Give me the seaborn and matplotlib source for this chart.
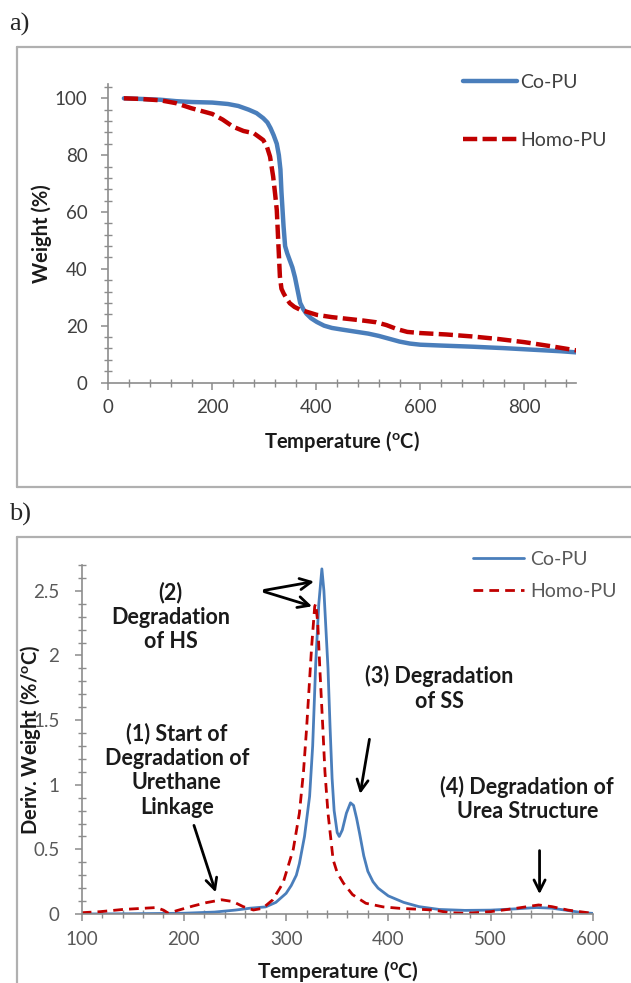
import matplotlib
matplotlib.use("Agg")
import matplotlib.pyplot as plt
from matplotlib.ticker import MultipleLocator, FuncFormatter
from matplotlib.lines import Line2D
import seaborn as sns

# ---- data: (a) TGA weight loss ----
temp_co_a = [30, 60, 100, 130, 160, 200, 230, 250, 270, 285, 298, 306, 312, 318, 324, 328, 331, 333, 335, 337,
             340, 344, 349, 354, 359, 364, 369, 375, 381, 390, 401, 415, 430, 450, 475, 500, 520, 540, 560,
             580, 600, 640, 700, 760, 820, 870, 900]
weight_co = [100, 99.8, 99.5, 99, 98.7, 98.5, 98, 97.3, 96, 94.8, 93, 91.5, 89.5, 87, 84, 80, 75, 67, 61, 55,
             48, 45.5, 43, 40.5, 37, 32.5, 28, 25.8, 24.2, 22.6, 21.3, 20, 19.2, 18.6, 17.9, 17.2, 16.4, 15.4,
             14.4, 13.7, 13.3, 13, 12.6, 12.1, 11.5, 11, 10.6]

temp_homo_a = [30, 60, 100, 130, 160, 200, 220, 240, 260, 280, 298, 305, 311, 317, 321, 324, 327, 330, 333,
               337, 343, 349, 358, 369, 385, 401, 430, 460, 490, 515, 535, 555, 575, 600, 650, 700, 750, 800,
               850, 900]
weight_homo = [100, 99.8, 99.3, 98.3, 96.5, 94.5, 92.5, 90, 88.5, 87.7, 85.3, 83, 79.5, 72.5, 66, 60.7, 49,
               37.3, 33, 31.4, 29.5, 27.9, 26.6, 25.6, 24.7, 23.8, 23, 22.4, 21.8, 21.2, 20.2, 18.8, 17.8,
               17.4, 16.9, 16.2, 15.3, 14.2, 12.8, 11.3]

# ---- data: (b) DTG ----
temp_co_b = [100, 150, 200, 230, 250, 265, 280, 290, 300, 305, 310, 313, 318, 323, 326, 329, 332, 335, 337,
             339, 341, 343, 345, 347, 350, 352, 355, 359, 363, 366, 369, 372, 376, 380, 385, 390, 400, 415,
             430, 450, 475, 500, 525, 545, 560, 575, 590, 600]
deriv_co = [0.0, 0.002, 0.006, 0.015, 0.03, 0.045, 0.055, 0.09, 0.16, 0.22, 0.3, 0.39, 0.6, 0.91, 1.3, 1.94,
            2.4, 2.67, 2.5, 2.2, 1.9, 1.45, 1.05, 0.8, 0.63, 0.6, 0.65, 0.78, 0.86, 0.84, 0.74, 0.62, 0.45,
            0.33, 0.25, 0.2, 0.14, 0.09, 0.057, 0.035, 0.028, 0.03, 0.04, 0.05, 0.045, 0.028, 0.01, 0.005]

temp_homo_b = [100, 118, 140, 160, 173, 180, 185, 193, 209, 222, 237, 248, 258, 268, 277, 287, 297, 307, 313,
               317, 320, 325, 328, 329, 331, 333, 336, 338, 341, 346, 350, 356, 365, 378, 395, 411, 444, 460,
               476, 500, 525, 547, 560, 576, 600]
deriv_homo = [0.01, 0.018, 0.035, 0.044, 0.05, 0.03, 0.005, 0.026, 0.062, 0.088, 0.11, 0.096, 0.057, 0.031,
              0.044, 0.11, 0.24, 0.5, 0.78, 1.1, 1.43, 2.07, 2.38, 2.4, 2.25, 1.9, 1.43, 1.1, 0.78, 0.42, 0.32,
              0.24, 0.15, 0.083, 0.055, 0.044, 0.031, 0.01, 0.005, 0.018, 0.044, 0.07, 0.057, 0.03, 0.005]

series_labels = ["Co-PU", "Homo-PU"]
BLUE = "#4a7ebb"
RED = "#c00000"

sns.set_style("ticks")
plt.rcParams["font.family"] = ["Lato", "DejaVu Sans"]
plt.rcParams["mathtext.default"] = "regular"

fig = plt.figure(figsize=(6.31, 9.83), dpi=100)
W, H = 631.0, 983.0


def fig_line(x0, y0, x1, y1, color="#b0b0b0", lw=1.6):
    fig.add_artist(Line2D([x0 / W, x1 / W], [1 - y0 / H, 1 - y1 / H], transform=fig.transFigure,
                          color=color, lw=lw))


# chart area frames like the excel screenshots
fig_line(17, 47, 631, 47)
fig_line(17, 47, 17, 487)
fig_line(17, 487, 631, 487)
fig_line(17, 537, 631, 537)
fig_line(17, 537, 17, 983)
fig.text(9 / W, 1 - 24 / H, "a)", family="Liberation Serif", fontsize=19, va="center", ha="left")
fig.text(9 / W, 1 - 514 / H, "b)", family="Liberation Serif", fontsize=19, va="center", ha="left")


def style_axes(ax, tick_color):
    sns.despine(ax=ax)
    for s in ["left", "bottom"]:
        ax.spines[s].set_color("#8c8c8c")
        ax.spines[s].set_linewidth(1.2)
    ax.tick_params(which="major", direction="out", length=5, width=1.1, color="#8c8c8c",
                   labelsize=13.5, labelcolor=tick_color)
    ax.tick_params(which="minor", direction="inout", length=6, width=1.0, color="#8c8c8c")


# ---------------- (a) ----------------
ax1 = fig.add_axes([108.3 / W, 1 - 382.5 / H, 468 / W, 298.4 / H])
sns.lineplot(x=temp_co_a, y=weight_co, ax=ax1, color=BLUE, lw=3.2, sort=False, label=series_labels[0])
sns.lineplot(x=temp_homo_a, y=weight_homo, ax=ax1, color=RED, lw=3.2, sort=False, label=series_labels[1],
             dashes=False, linestyle=(0, (3.2, 1.2)))
ax1.set_xlim(0, 900)
ax1.set_ylim(0, 105)
ax1.xaxis.set_major_locator(MultipleLocator(200))
ax1.xaxis.set_minor_locator(MultipleLocator(40))
ax1.yaxis.set_major_locator(MultipleLocator(20))
ax1.yaxis.set_minor_locator(MultipleLocator(4))
style_axes(ax1, "#404040")
ax1.tick_params(axis="x", which="major", pad=7)
ax1.tick_params(axis="y", which="major", pad=10)
ax1.set_xlabel("Temperature ($^{o}$C)", fontsize=14.5, fontweight="bold", color="#1a1a1a")
ax1.set_ylabel("Weight (%)", fontsize=14.5, fontweight="bold", color="#1a1a1a")
ax1.xaxis.set_label_coords(0.499, -0.155)
ax1.yaxis.set_label_coords(-0.12, 0.5)
ax1.legend(loc="upper left", bbox_to_anchor=(463 / W, 1 - 74 / H), bbox_transform=fig.transFigure,
           frameon=False, fontsize=14, borderpad=0, borderaxespad=0, handlelength=2.8,
           handletextpad=0.15, labelspacing=2.1, labelcolor="#404040")

# ---------------- (b) ----------------
ax2 = fig.add_axes([81.7 / W, 1 - 914 / H, 511 / W, 349 / H])
sns.lineplot(x=temp_co_b, y=deriv_co, ax=ax2, color=BLUE, lw=2.0, sort=False, label=series_labels[0])
sns.lineplot(x=temp_homo_b, y=deriv_homo, ax=ax2, color=RED, lw=2.0, sort=False, label=series_labels[1],
             dashes=False, linestyle=(0, (3.5, 2.2)))
ax2.set_xlim(100, 600)
ax2.set_ylim(0, 2.7)
ax2.xaxis.set_major_locator(MultipleLocator(100))
ax2.xaxis.set_minor_locator(MultipleLocator(20))
ax2.yaxis.set_major_locator(MultipleLocator(0.5))
ax2.yaxis.set_minor_locator(MultipleLocator(0.1))
ax2.yaxis.set_major_formatter(FuncFormatter(lambda v, p: "%g" % v))
style_axes(ax2, "#595959")
ax2.tick_params(axis="x", which="major", pad=7)
ax2.tick_params(axis="y", which="major", pad=11)
ax2.set_xlabel("Temperature ($^{o}$C)", fontsize=15, fontweight="bold", color="#1a1a1a")
ax2.set_ylabel("Deriv. Weight (%/$^{o}$C)", fontsize=14.5, fontweight="bold", color="#1a1a1a")
ax2.xaxis.set_label_coords(0.502, -0.128)
ax2.yaxis.set_label_coords(-0.076, 0.5)
ax2.legend(loc="upper left", bbox_to_anchor=(473 / W, 1 - 551 / H), bbox_transform=fig.transFigure,
           frameon=False, fontsize=14, borderpad=0, borderaxespad=0, handlelength=2.6,
           handletextpad=0.35, labelspacing=0.75, labelcolor="#595959")

note_kw = dict(ha="center", va="center", fontsize=15.5, fontweight="bold", color="#1a1a1a", linespacing=1.2)
arrow_kw = dict(arrowstyle="->", color="black", lw=2.0, mutation_scale=20)

ax2.text(187, 2.30, "(2)\nDegradation\nof HS", **note_kw)
ax2.annotate("", xy=(330, 2.576), xytext=(276, 2.50), arrowprops=arrow_kw)
ax2.annotate("", xy=(328, 2.374), xytext=(276, 2.50), arrowprops=arrow_kw)

ax2.text(193, 1.113, "(1) Start of\nDegradation of\nUrethane\nLinkage", **note_kw)
ax2.annotate("", xy=(232, 0.147), xytext=(209, 0.706), arrowprops=arrow_kw)

ax2.text(450, 1.745, "(3) Degradation\nof SS", **note_kw)
ax2.annotate("", xy=(372, 0.908), xytext=(382, 1.373), arrowprops=arrow_kw)

ax2.text(536, 0.892, "(4) Degradation of\nUrea Structure", **note_kw)
ax2.annotate("", xy=(548, 0.132), xytext=(548, 0.512), arrowprops=arrow_kw)

fig.savefig("out.png", dpi=100)
